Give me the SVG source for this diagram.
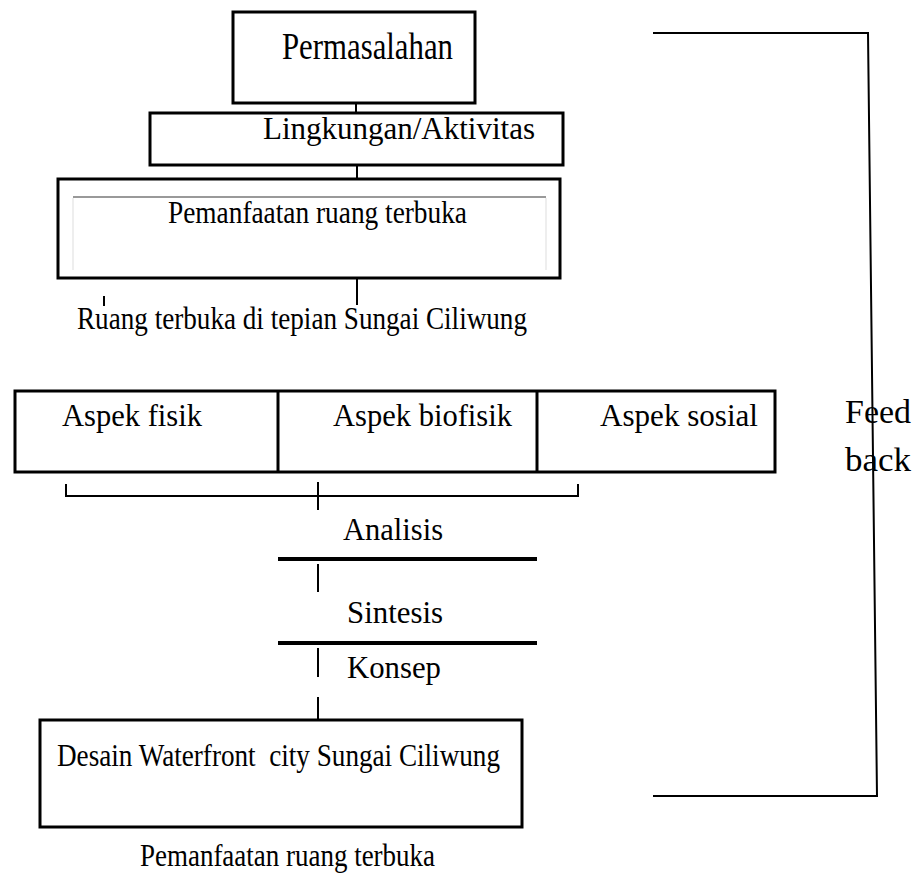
<svg xmlns="http://www.w3.org/2000/svg" width="923" height="878" viewBox="0 0 923 878">
<style>
.box{fill:#fff;stroke:#000;stroke-width:3}
.ln{stroke:#000;stroke-width:2;fill:none}
.thick{stroke:#000;stroke-width:4;fill:none}
text{font-family:"Liberation Serif","Times New Roman",serif;fill:#000;font-size:32px;white-space:pre}
</style>
<rect width="923" height="878" fill="#fff"/>
<g id="connectors">
<line class="ln" x1="356" y1="103" x2="356" y2="113"/>
<line class="ln" x1="357" y1="165" x2="357" y2="179"/>
<line class="ln" x1="357" y1="278" x2="357" y2="305"/>
<line class="ln" x1="104" y1="296" x2="104" y2="306"/>
<path class="ln" d="M66,484 V496 H578 V484"/>
<line class="ln" x1="318" y1="482" x2="318" y2="510"/>
<line class="thick" x1="278" y1="559" x2="537" y2="559"/>
<line class="ln" x1="318" y1="564" x2="318" y2="592"/>
<line class="thick" x1="278" y1="643" x2="537" y2="643"/>
<line class="ln" x1="318" y1="648" x2="318" y2="677"/>
<line class="ln" x1="318" y1="697" x2="318" y2="720"/>
<polyline class="ln" points="653,33 868,33 877,796 653,796"/>
</g>
<g id="permasalahan">
<rect class="box" x="233" y="12" width="242" height="91"/>
<text x="282" y="59" style="font-size:38px" textLength="171" lengthAdjust="spacingAndGlyphs">Permasalahan</text>
</g>
<g id="lingkungan">
<rect class="box" x="150" y="113" width="413" height="52"/>
<text x="263" y="139" textLength="272" lengthAdjust="spacingAndGlyphs">Lingkungan/Aktivitas</text>
</g>
<g id="pemanfaatan">
<rect class="box" x="58" y="179" width="502" height="99"/>
<line x1="73" y1="197" x2="546" y2="197" stroke="#999" stroke-width="2"/>
<line x1="73" y1="198" x2="73" y2="270" stroke="#eee" stroke-width="2"/>
<line x1="546" y1="198" x2="546" y2="270" stroke="#eee" stroke-width="2"/>
<text x="168" y="223" textLength="299" lengthAdjust="spacingAndGlyphs">Pemanfaatan ruang terbuka</text>
</g>
<g id="ruang">
<text x="77" y="329" textLength="450" lengthAdjust="spacingAndGlyphs">Ruang terbuka di tepian Sungai Ciliwung</text>
</g>
<g id="aspek">
<rect class="box" x="15" y="391" width="760" height="81"/>
<line class="box" x1="278" y1="391" x2="278" y2="472"/>
<line class="box" x1="537" y1="391" x2="537" y2="472"/>
<text x="62" y="426" textLength="140" lengthAdjust="spacingAndGlyphs">Aspek fisik</text>
<text x="333" y="426" textLength="179" lengthAdjust="spacingAndGlyphs">Aspek biofisik</text>
<text x="600" y="426" textLength="158" lengthAdjust="spacingAndGlyphs">Aspek sosial</text>
</g>
<g id="analisis">
<text x="343" y="540" textLength="100" lengthAdjust="spacingAndGlyphs">Analisis</text>
</g>
<g id="sintesis">
<text x="347" y="623" textLength="96" lengthAdjust="spacingAndGlyphs">Sintesis</text>
</g>
<g id="konsep">
<text x="347" y="678" textLength="94" lengthAdjust="spacingAndGlyphs">Konsep</text>
</g>
<g id="desain">
<rect class="box" x="40" y="720" width="482" height="107"/>
<text x="57" y="766" textLength="443" lengthAdjust="spacingAndGlyphs">Desain Waterfront  city Sungai Ciliwung</text>
</g>
<g id="pemanfaatan2">
<text x="140" y="866" textLength="295" lengthAdjust="spacingAndGlyphs">Pemanfaatan ruang terbuka</text>
</g>
<g id="feedback">
<text x="845" y="423" style="font-size:33px" textLength="66" lengthAdjust="spacingAndGlyphs">Feed</text>
<text x="845" y="471" style="font-size:33px" textLength="66" lengthAdjust="spacingAndGlyphs">back</text>
</g>
</svg>
